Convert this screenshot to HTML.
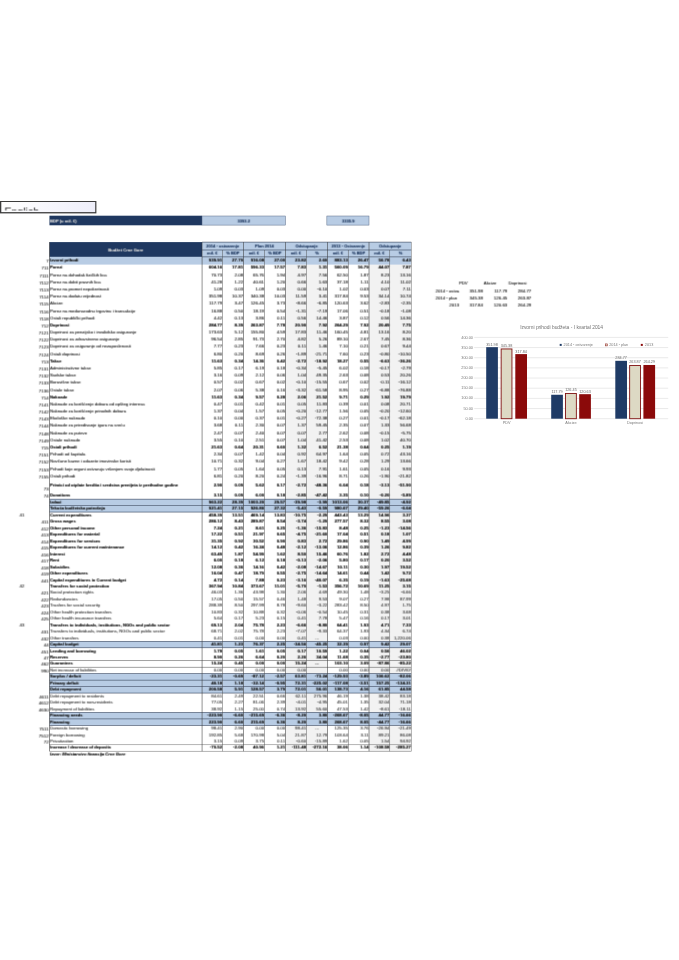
<!DOCTYPE html>
<html lang="en"><head><meta charset="utf-8"><title>Budžet Crne Gore - I kvartal 2014</title>
<style>
html,body{margin:0;padding:0;background:#fff;}
body{width:679px;height:960px;position:relative;overflow:hidden;font-family:"Liberation Sans",sans-serif;color:#222;}
.a{position:absolute;}
.t{position:absolute;white-space:nowrap;font-size:4.3px;line-height:6px;height:6px;color:#2a2a2a;text-shadow:0 0 0.35px rgba(0,0,0,0.55);}
.b{font-weight:bold;color:#111;font-size:4.12px;}
.l{color:#4a4a4a;}
.n{text-align:right;font-size:4.4px;}
.b.n{font-size:4.4px;}
.c{text-align:center;}
.m{position:relative;top:-1px;}
.code{position:absolute;white-space:nowrap;font-size:4.4px;line-height:6px;height:6px;color:#2e2e2e;text-align:right;text-shadow:0 0 0.35px rgba(0,0,0,0.45);}
.hd{position:absolute;white-space:nowrap;font-size:4.05px;text-shadow:0 0 0.35px rgba(31,56,96,0.55);line-height:6px;height:6px;font-weight:bold;color:#1f3860;text-align:center;}
.vl{position:absolute;width:0.9px;background:rgba(0,0,0,0.62);}
.vi{position:absolute;width:0.9px;background:rgba(0,0,0,0.42);}
.hl{position:absolute;height:0.6px;background:#27364f;}
.tx{position:absolute;left:0;top:0;width:679px;height:960px;filter:url(#soft);}
</style></head><body>
<svg width="0" height="0" style="position:absolute"><defs><filter id="soft" x="0" y="0" width="100%" height="100%" color-interpolation-filters="sRGB"><feConvolveMatrix order="3 2" kernelMatrix="0.075 0.35 0.075 0.075 0.35 0.075" divisor="1" edgeMode="none" preserveAlpha="false"/></filter></defs></svg>

<svg class="a bg" style="left:0;top:0;" width="679" height="960" viewBox="0 0 679 960"><defs><linearGradient id="eg" x1="0" x2="1" y1="0" y2="0"><stop offset="0" stop-color="#fff"/><stop offset="1" stop-color="#eeeefa"/></linearGradient></defs>
<rect x="0" y="201" width="96.4" height="12.4" fill="#3c3c3c"/>
<rect x="1.3" y="202" width="93.9" height="10.1" fill="url(#eg)"/>
<rect x="49.45" y="215.70" width="152.60" height="9.60" fill="#1f3860"/>
<rect x="202.05" y="216.00" width="83.45" height="9.10" fill="#b8cce4" stroke="#5d6d88" stroke-width="0.5"/>
<rect x="326.85" y="216.00" width="42.15" height="9.10" fill="#b8cce4" stroke="#5d6d88" stroke-width="0.5"/>
<rect x="49.45" y="242.10" width="152.60" height="14.80" fill="#1f3860"/>
<rect x="202.05" y="242.10" width="209.25" height="14.80" fill="#b8cce4"/>
<rect x="285.50" y="256.90" width="42.15" height="494.33" fill="#f2f2f2"/>
<rect x="369.00" y="256.90" width="42.30" height="494.33" fill="#f2f2f2"/>
<rect x="49.45" y="256.90" width="361.85" height="7.70" fill="#b8cce4"/>
<rect x="49.45" y="499.13" width="361.85" height="6.46" fill="#b8cce4"/>
<rect x="49.45" y="505.60" width="361.85" height="6.46" fill="#b8cce4"/>
<rect x="49.45" y="641.34" width="361.85" height="6.46" fill="#b8cce4"/>
<rect x="49.45" y="673.66" width="361.85" height="6.46" fill="#b8cce4"/>
<rect x="49.45" y="680.12" width="361.85" height="6.46" fill="#b8cce4"/>
<rect x="49.45" y="686.59" width="361.85" height="6.46" fill="#b8cce4"/>
<rect x="49.45" y="712.44" width="361.85" height="6.46" fill="#b8cce4"/>
<rect x="49.45" y="718.91" width="361.85" height="6.46" fill="#b8cce4"/>
<rect x="202.05" y="241.82" width="209.25" height="0.55" fill="#27364f"/>
<rect x="202.05" y="249.72" width="209.25" height="0.55" fill="#27364f"/>
<rect x="202.05" y="256.62" width="209.25" height="0.55" fill="#27364f"/>
<rect x="49.45" y="498.86" width="361.85" height="0.55" fill="#27364f"/>
<rect x="49.45" y="505.32" width="361.85" height="0.55" fill="#27364f"/>
<rect x="49.45" y="511.78" width="361.85" height="0.55" fill="#27364f"/>
<rect x="49.45" y="641.07" width="361.85" height="0.55" fill="#27364f"/>
<rect x="49.45" y="647.53" width="361.85" height="0.55" fill="#27364f"/>
<rect x="49.45" y="660.46" width="361.85" height="0.55" fill="#555"/>
<rect x="49.45" y="666.92" width="361.85" height="0.55" fill="#555"/>
<rect x="49.45" y="673.39" width="361.85" height="0.55" fill="#27364f"/>
<rect x="49.45" y="679.85" width="361.85" height="0.55" fill="#27364f"/>
<rect x="49.45" y="686.31" width="361.85" height="0.55" fill="#27364f"/>
<rect x="49.45" y="692.78" width="361.85" height="0.55" fill="#27364f"/>
<rect x="49.45" y="712.17" width="361.85" height="0.55" fill="#27364f"/>
<rect x="49.45" y="718.63" width="361.85" height="0.55" fill="#27364f"/>
<rect x="49.45" y="725.10" width="361.85" height="0.55" fill="#27364f"/>
<rect x="49.45" y="744.49" width="361.85" height="0.55" fill="#777"/>
<rect x="49.45" y="750.95" width="361.85" height="0.55" fill="#777"/>
<rect x="49.18" y="242.10" width="0.55" height="509.13" fill="#333"/>
<rect x="201.78" y="242.10" width="0.55" height="509.13" fill="#3a3a3a"/>
<rect x="222.28" y="250.00" width="0.45" height="501.23" fill="#4a4a4a"/>
<rect x="243.17" y="242.10" width="0.55" height="509.13" fill="#3a3a3a"/>
<rect x="264.22" y="250.00" width="0.45" height="501.23" fill="#4a4a4a"/>
<rect x="285.23" y="242.10" width="0.55" height="509.13" fill="#3a3a3a"/>
<rect x="306.17" y="250.00" width="0.45" height="501.23" fill="#4a4a4a"/>
<rect x="327.38" y="242.10" width="0.55" height="509.13" fill="#3a3a3a"/>
<rect x="347.97" y="250.00" width="0.45" height="501.23" fill="#4a4a4a"/>
<rect x="368.73" y="242.10" width="0.55" height="509.13" fill="#3a3a3a"/>
<rect x="389.57" y="250.00" width="0.45" height="501.23" fill="#4a4a4a"/>
<rect x="411.00" y="242.10" width="0.60" height="509.13" fill="#8a8a8a"/></svg>
<div class="tx">
<div class="a" style="left:4.4px;top:204px;width:60px;height:5.9px;overflow:hidden;"><div style="font-size:10.6px;line-height:12px;color:#222;margin-top:1.4px;">English</div></div>
<div class="t b" style="left:50px;top:217.6px;color:#fff;">BDP (u mil. €)</div>
<div class="hd" style="left:202.1px;top:217.6px;width:83.4px;">3393.2</div>
<div class="hd" style="left:327.6px;top:217.6px;width:41.4px;">3335.9</div>
<div class="t b c" style="left:49.5px;top:246.5px;width:152.6px;color:#fff;">Budžet Crne Gore</div>
<div class="hd" style="left:202.1px;top:243.1px;width:41.4px;">2014 <span class="m">-</span> ostvarenje</div>
<div class="hd" style="left:243.4px;top:243.1px;width:42.1px;">Plan 2014</div>
<div class="hd" style="left:285.5px;top:243.1px;width:42.1px;">Odstupanje</div>
<div class="hd" style="left:327.6px;top:243.1px;width:41.4px;">2013 <span class="m">-</span> Ostvarenje</div>
<div class="hd" style="left:369.0px;top:243.1px;width:42.3px;">Odstupanje</div>
<div class="hd" style="left:202.1px;top:250.4px;width:20.4px;">mil. €</div>
<div class="hd" style="left:222.5px;top:250.4px;width:20.9px;">% BDP</div>
<div class="hd" style="left:243.4px;top:250.4px;width:21.0px;">mil. €</div>
<div class="hd" style="left:264.4px;top:250.4px;width:21.1px;">% BDP</div>
<div class="hd" style="left:285.5px;top:250.4px;width:20.9px;">mil. €</div>
<div class="hd" style="left:306.4px;top:250.4px;width:21.2px;">%</div>
<div class="hd" style="left:327.6px;top:250.4px;width:20.6px;">mil. €</div>
<div class="hd" style="left:348.2px;top:250.4px;width:20.8px;">% BDP</div>
<div class="hd" style="left:369.0px;top:250.4px;width:20.8px;">mil. €</div>
<div class="hd" style="left:389.8px;top:250.4px;width:21.5px;">%</div>
<div class="code" style="left:20px;top:258.00px;width:28.6px;">7</div>
<div class="t b" style="left:50.1px;top:257.00px;">Izvorni prihodi</div>
<div class="t b n" style="left:196.1px;top:257.00px;width:26.1px;">939.91</div>
<div class="t b n" style="left:216.5px;top:257.00px;width:26.6px;">27.70</div>
<div class="t b n" style="left:237.4px;top:257.00px;width:26.7px;">916.08</div>
<div class="t b n" style="left:258.4px;top:257.00px;width:26.8px;">27.00</div>
<div class="t b n" style="left:279.5px;top:257.00px;width:26.6px;">23.82</div>
<div class="t b n" style="left:300.4px;top:257.00px;width:26.9px;">2.60</div>
<div class="t b n" style="left:321.6px;top:257.00px;width:26.3px;">883.13</div>
<div class="t b n" style="left:342.2px;top:257.00px;width:26.5px;">26.47</div>
<div class="t b n" style="left:363.0px;top:257.00px;width:26.5px;">56.78</div>
<div class="t b n" style="left:383.8px;top:257.00px;width:27.2px;">6.43</div>
<div class="code" style="left:20px;top:265.00px;width:28.6px;">711</div>
<div class="t b" style="left:50.1px;top:264.00px;">Porezi</div>
<div class="t b n" style="left:196.1px;top:264.00px;width:26.1px;">604.16</div>
<div class="t b n" style="left:216.5px;top:264.00px;width:26.6px;">17.81</div>
<div class="t b n" style="left:237.4px;top:264.00px;width:26.7px;">596.33</div>
<div class="t b n" style="left:258.4px;top:264.00px;width:26.8px;">17.57</div>
<div class="t b n" style="left:279.5px;top:264.00px;width:26.6px;">7.83</div>
<div class="t b n" style="left:300.4px;top:264.00px;width:26.9px;">1.31</div>
<div class="t b n" style="left:321.6px;top:264.00px;width:26.3px;">560.09</div>
<div class="t b n" style="left:342.2px;top:264.00px;width:26.5px;">16.79</div>
<div class="t b n" style="left:363.0px;top:264.00px;width:26.5px;">44.07</div>
<div class="t b n" style="left:383.8px;top:264.00px;width:27.2px;">7.87</div>
<div class="code" style="left:20px;top:273.00px;width:28.6px;">7111</div>
<div class="t" style="left:50.1px;top:272.00px;">Porez na dohodak fizičkih lica</div>
<div class="t n" style="left:196.1px;top:272.00px;width:26.1px;">70.73</div>
<div class="t n" style="left:216.5px;top:272.00px;width:26.6px;">2.08</div>
<div class="t n" style="left:237.4px;top:272.00px;width:26.7px;">65.76</div>
<div class="t n" style="left:258.4px;top:272.00px;width:26.8px;">1.94</div>
<div class="t n" style="left:279.5px;top:272.00px;width:26.6px;">4.97</div>
<div class="t n" style="left:300.4px;top:272.00px;width:26.9px;">7.56</div>
<div class="t n" style="left:321.6px;top:272.00px;width:26.3px;">62.50</div>
<div class="t n" style="left:342.2px;top:272.00px;width:26.5px;">1.87</div>
<div class="t n" style="left:363.0px;top:272.00px;width:26.5px;">8.23</div>
<div class="t n" style="left:383.8px;top:272.00px;width:27.2px;">13.16</div>
<div class="code" style="left:20px;top:280.00px;width:28.6px;">7112</div>
<div class="t" style="left:50.1px;top:279.00px;">Porez na dobit pravnih lica</div>
<div class="t n" style="left:196.1px;top:279.00px;width:26.1px;">41.28</div>
<div class="t n" style="left:216.5px;top:279.00px;width:26.6px;">1.22</div>
<div class="t n" style="left:237.4px;top:279.00px;width:26.7px;">40.61</div>
<div class="t n" style="left:258.4px;top:279.00px;width:26.8px;">1.20</div>
<div class="t n" style="left:279.5px;top:279.00px;width:26.6px;">0.66</div>
<div class="t n" style="left:300.4px;top:279.00px;width:26.9px;">1.63</div>
<div class="t n" style="left:321.6px;top:279.00px;width:26.3px;">37.18</div>
<div class="t n" style="left:342.2px;top:279.00px;width:26.5px;">1.11</div>
<div class="t n" style="left:363.0px;top:279.00px;width:26.5px;">4.10</div>
<div class="t n" style="left:383.8px;top:279.00px;width:27.2px;">11.02</div>
<div class="code" style="left:20px;top:287.00px;width:28.6px;">7113</div>
<div class="t" style="left:50.1px;top:286.00px;">Porez na promet nepokretnosti</div>
<div class="t n" style="left:196.1px;top:286.00px;width:26.1px;">1.09</div>
<div class="t n" style="left:216.5px;top:286.00px;width:26.6px;">0.03</div>
<div class="t n" style="left:237.4px;top:286.00px;width:26.7px;">1.09</div>
<div class="t n" style="left:258.4px;top:286.00px;width:26.8px;">0.03</div>
<div class="t n" style="left:279.5px;top:286.00px;width:26.6px;">0.00</div>
<div class="t n" style="left:300.4px;top:286.00px;width:26.9px;"><span class="m">-</span>0.10</div>
<div class="t n" style="left:321.6px;top:286.00px;width:26.3px;">1.02</div>
<div class="t n" style="left:342.2px;top:286.00px;width:26.5px;">0.03</div>
<div class="t n" style="left:363.0px;top:286.00px;width:26.5px;">0.07</div>
<div class="t n" style="left:383.8px;top:286.00px;width:27.2px;">7.11</div>
<div class="code" style="left:20px;top:294.00px;width:28.6px;">7114</div>
<div class="t" style="left:50.1px;top:293.00px;">Porez na dodatu vrijednost</div>
<div class="t n" style="left:196.1px;top:293.00px;width:26.1px;">351.98</div>
<div class="t n" style="left:216.5px;top:293.00px;width:26.6px;">10.37</div>
<div class="t n" style="left:237.4px;top:293.00px;width:26.7px;">340.38</div>
<div class="t n" style="left:258.4px;top:293.00px;width:26.8px;">10.03</div>
<div class="t n" style="left:279.5px;top:293.00px;width:26.6px;">11.59</div>
<div class="t n" style="left:300.4px;top:293.00px;width:26.9px;">3.41</div>
<div class="t n" style="left:321.6px;top:293.00px;width:26.3px;">317.84</div>
<div class="t n" style="left:342.2px;top:293.00px;width:26.5px;">9.53</div>
<div class="t n" style="left:363.0px;top:293.00px;width:26.5px;">34.14</div>
<div class="t n" style="left:383.8px;top:293.00px;width:27.2px;">10.74</div>
<div class="code" style="left:20px;top:301.00px;width:28.6px;">7115</div>
<div class="t" style="left:50.1px;top:300.00px;">Akcize</div>
<div class="t n" style="left:196.1px;top:300.00px;width:26.1px;">117.79</div>
<div class="t n" style="left:216.5px;top:300.00px;width:26.6px;">3.47</div>
<div class="t n" style="left:237.4px;top:300.00px;width:26.7px;">126.45</div>
<div class="t n" style="left:258.4px;top:300.00px;width:26.8px;">3.73</div>
<div class="t n" style="left:279.5px;top:300.00px;width:26.6px;"><span class="m">-</span>8.66</div>
<div class="t n" style="left:300.4px;top:300.00px;width:26.9px;"><span class="m">-</span>6.85</div>
<div class="t n" style="left:321.6px;top:300.00px;width:26.3px;">120.63</div>
<div class="t n" style="left:342.2px;top:300.00px;width:26.5px;">3.62</div>
<div class="t n" style="left:363.0px;top:300.00px;width:26.5px;"><span class="m">-</span>2.83</div>
<div class="t n" style="left:383.8px;top:300.00px;width:27.2px;"><span class="m">-</span>2.35</div>
<div class="code" style="left:20px;top:309.00px;width:28.6px;">7116</div>
<div class="t" style="left:50.1px;top:308.00px;">Porez na međunarodnu trgovinu i transakcije</div>
<div class="t n" style="left:196.1px;top:308.00px;width:26.1px;">16.88</div>
<div class="t n" style="left:216.5px;top:308.00px;width:26.6px;">0.50</div>
<div class="t n" style="left:237.4px;top:308.00px;width:26.7px;">18.19</div>
<div class="t n" style="left:258.4px;top:308.00px;width:26.8px;">0.54</div>
<div class="t n" style="left:279.5px;top:308.00px;width:26.6px;"><span class="m">-</span>1.31</div>
<div class="t n" style="left:300.4px;top:308.00px;width:26.9px;"><span class="m">-</span>7.19</div>
<div class="t n" style="left:321.6px;top:308.00px;width:26.3px;">17.06</div>
<div class="t n" style="left:342.2px;top:308.00px;width:26.5px;">0.51</div>
<div class="t n" style="left:363.0px;top:308.00px;width:26.5px;"><span class="m">-</span>0.18</div>
<div class="t n" style="left:383.8px;top:308.00px;width:27.2px;"><span class="m">-</span>1.08</div>
<div class="code" style="left:20px;top:316.00px;width:28.6px;">7118</div>
<div class="t" style="left:50.1px;top:315.00px;">Ostali republički prihodi</div>
<div class="t n" style="left:196.1px;top:315.00px;width:26.1px;">4.42</div>
<div class="t n" style="left:216.5px;top:315.00px;width:26.6px;">0.13</div>
<div class="t n" style="left:237.4px;top:315.00px;width:26.7px;">3.86</div>
<div class="t n" style="left:258.4px;top:315.00px;width:26.8px;">0.11</div>
<div class="t n" style="left:279.5px;top:315.00px;width:26.6px;">0.56</div>
<div class="t n" style="left:300.4px;top:315.00px;width:26.9px;">14.46</div>
<div class="t n" style="left:321.6px;top:315.00px;width:26.3px;">3.87</div>
<div class="t n" style="left:342.2px;top:315.00px;width:26.5px;">0.12</div>
<div class="t n" style="left:363.0px;top:315.00px;width:26.5px;">0.56</div>
<div class="t n" style="left:383.8px;top:315.00px;width:27.2px;">14.36</div>
<div class="code" style="left:20px;top:323.00px;width:28.6px;">712</div>
<div class="t b" style="left:50.1px;top:322.00px;">Doprinosi</div>
<div class="t b n" style="left:196.1px;top:322.00px;width:26.1px;">284.77</div>
<div class="t b n" style="left:216.5px;top:322.00px;width:26.6px;">8.39</div>
<div class="t b n" style="left:237.4px;top:322.00px;width:26.7px;">263.87</div>
<div class="t b n" style="left:258.4px;top:322.00px;width:26.8px;">7.78</div>
<div class="t b n" style="left:279.5px;top:322.00px;width:26.6px;">20.90</div>
<div class="t b n" style="left:300.4px;top:322.00px;width:26.9px;">7.92</div>
<div class="t b n" style="left:321.6px;top:322.00px;width:26.3px;">264.29</div>
<div class="t b n" style="left:342.2px;top:322.00px;width:26.5px;">7.92</div>
<div class="t b n" style="left:363.0px;top:322.00px;width:26.5px;">20.49</div>
<div class="t b n" style="left:383.8px;top:322.00px;width:27.2px;">7.75</div>
<div class="code" style="left:20px;top:330.00px;width:28.6px;">7121</div>
<div class="t" style="left:50.1px;top:329.00px;">Doprinosi za penzijsko i invalidsko osiguranje</div>
<div class="t n" style="left:196.1px;top:329.00px;width:26.1px;">173.63</div>
<div class="t n" style="left:216.5px;top:329.00px;width:26.6px;">5.12</div>
<div class="t n" style="left:237.4px;top:329.00px;width:26.7px;">155.80</div>
<div class="t n" style="left:258.4px;top:329.00px;width:26.8px;">4.59</div>
<div class="t n" style="left:279.5px;top:329.00px;width:26.6px;">17.83</div>
<div class="t n" style="left:300.4px;top:329.00px;width:26.9px;">11.46</div>
<div class="t n" style="left:321.6px;top:329.00px;width:26.3px;">160.45</div>
<div class="t n" style="left:342.2px;top:329.00px;width:26.5px;">4.81</div>
<div class="t n" style="left:363.0px;top:329.00px;width:26.5px;">13.16</div>
<div class="t n" style="left:383.8px;top:329.00px;width:27.2px;">8.20</div>
<div class="code" style="left:20px;top:337.00px;width:28.6px;">7122</div>
<div class="t" style="left:50.1px;top:336.00px;">Doprinosi za zdravstveno osiguranje</div>
<div class="t n" style="left:196.1px;top:336.00px;width:26.1px;">96.54</div>
<div class="t n" style="left:216.5px;top:336.00px;width:26.6px;">2.85</div>
<div class="t n" style="left:237.4px;top:336.00px;width:26.7px;">91.73</div>
<div class="t n" style="left:258.4px;top:336.00px;width:26.8px;">2.70</div>
<div class="t n" style="left:279.5px;top:336.00px;width:26.6px;">4.82</div>
<div class="t n" style="left:300.4px;top:336.00px;width:26.9px;">5.26</div>
<div class="t n" style="left:321.6px;top:336.00px;width:26.3px;">89.10</div>
<div class="t n" style="left:342.2px;top:336.00px;width:26.5px;">2.67</div>
<div class="t n" style="left:363.0px;top:336.00px;width:26.5px;">7.45</div>
<div class="t n" style="left:383.8px;top:336.00px;width:27.2px;">8.36</div>
<div class="code" style="left:20px;top:344.00px;width:28.6px;">7123</div>
<div class="t" style="left:50.1px;top:343.00px;">Doprinosi za osiguranje od nezaposlenosti</div>
<div class="t n" style="left:196.1px;top:343.00px;width:26.1px;">7.77</div>
<div class="t n" style="left:216.5px;top:343.00px;width:26.6px;">0.23</div>
<div class="t n" style="left:237.4px;top:343.00px;width:26.7px;">7.66</div>
<div class="t n" style="left:258.4px;top:343.00px;width:26.8px;">0.23</div>
<div class="t n" style="left:279.5px;top:343.00px;width:26.6px;">0.11</div>
<div class="t n" style="left:300.4px;top:343.00px;width:26.9px;">1.46</div>
<div class="t n" style="left:321.6px;top:343.00px;width:26.3px;">7.10</div>
<div class="t n" style="left:342.2px;top:343.00px;width:26.5px;">0.21</div>
<div class="t n" style="left:363.0px;top:343.00px;width:26.5px;">0.67</div>
<div class="t n" style="left:383.8px;top:343.00px;width:27.2px;">9.44</div>
<div class="code" style="left:20px;top:352.00px;width:28.6px;">7124</div>
<div class="t" style="left:50.1px;top:351.00px;">Ostali doprinosi</div>
<div class="t n" style="left:196.1px;top:351.00px;width:26.1px;">6.80</div>
<div class="t n" style="left:216.5px;top:351.00px;width:26.6px;">0.20</div>
<div class="t n" style="left:237.4px;top:351.00px;width:26.7px;">8.69</div>
<div class="t n" style="left:258.4px;top:351.00px;width:26.8px;">0.26</div>
<div class="t n" style="left:279.5px;top:351.00px;width:26.6px;"><span class="m">-</span>1.89</div>
<div class="t n" style="left:300.4px;top:351.00px;width:26.9px;"><span class="m">-</span>21.71</div>
<div class="t n" style="left:321.6px;top:351.00px;width:26.3px;">7.60</div>
<div class="t n" style="left:342.2px;top:351.00px;width:26.5px;">0.23</div>
<div class="t n" style="left:363.0px;top:351.00px;width:26.5px;"><span class="m">-</span>0.80</div>
<div class="t n" style="left:383.8px;top:351.00px;width:27.2px;"><span class="m">-</span>10.50</div>
<div class="code" style="left:20px;top:359.00px;width:28.6px;">713</div>
<div class="t b" style="left:50.1px;top:358.00px;">Takse</div>
<div class="t b n" style="left:196.1px;top:358.00px;width:26.1px;">11.63</div>
<div class="t b n" style="left:216.5px;top:358.00px;width:26.6px;">0.34</div>
<div class="t b n" style="left:237.4px;top:358.00px;width:26.7px;">14.36</div>
<div class="t b n" style="left:258.4px;top:358.00px;width:26.8px;">0.42</div>
<div class="t b n" style="left:279.5px;top:358.00px;width:26.6px;"><span class="m">-</span>2.72</div>
<div class="t b n" style="left:300.4px;top:358.00px;width:26.9px;"><span class="m">-</span>18.92</div>
<div class="t b n" style="left:321.6px;top:358.00px;width:26.3px;">18.27</div>
<div class="t b n" style="left:342.2px;top:358.00px;width:26.5px;">0.55</div>
<div class="t b n" style="left:363.0px;top:358.00px;width:26.5px;"><span class="m">-</span>6.63</div>
<div class="t b n" style="left:383.8px;top:358.00px;width:27.2px;"><span class="m">-</span>36.26</div>
<div class="code" style="left:20px;top:366.00px;width:28.6px;">7131</div>
<div class="t" style="left:50.1px;top:365.00px;">Administrativne takse</div>
<div class="t n" style="left:196.1px;top:365.00px;width:26.1px;">5.85</div>
<div class="t n" style="left:216.5px;top:365.00px;width:26.6px;">0.17</div>
<div class="t n" style="left:237.4px;top:365.00px;width:26.7px;">6.19</div>
<div class="t n" style="left:258.4px;top:365.00px;width:26.8px;">0.18</div>
<div class="t n" style="left:279.5px;top:365.00px;width:26.6px;"><span class="m">-</span>0.34</div>
<div class="t n" style="left:300.4px;top:365.00px;width:26.9px;"><span class="m">-</span>5.45</div>
<div class="t n" style="left:321.6px;top:365.00px;width:26.3px;">6.02</div>
<div class="t n" style="left:342.2px;top:365.00px;width:26.5px;">0.18</div>
<div class="t n" style="left:363.0px;top:365.00px;width:26.5px;"><span class="m">-</span>0.17</div>
<div class="t n" style="left:383.8px;top:365.00px;width:27.2px;"><span class="m">-</span>2.79</div>
<div class="code" style="left:20px;top:373.00px;width:28.6px;">7132</div>
<div class="t" style="left:50.1px;top:372.00px;">Sudske takse</div>
<div class="t n" style="left:196.1px;top:372.00px;width:26.1px;">3.16</div>
<div class="t n" style="left:216.5px;top:372.00px;width:26.6px;">0.09</div>
<div class="t n" style="left:237.4px;top:372.00px;width:26.7px;">2.12</div>
<div class="t n" style="left:258.4px;top:372.00px;width:26.8px;">0.06</div>
<div class="t n" style="left:279.5px;top:372.00px;width:26.6px;">1.04</div>
<div class="t n" style="left:300.4px;top:372.00px;width:26.9px;">49.35</div>
<div class="t n" style="left:321.6px;top:372.00px;width:26.3px;">2.63</div>
<div class="t n" style="left:342.2px;top:372.00px;width:26.5px;">0.08</div>
<div class="t n" style="left:363.0px;top:372.00px;width:26.5px;">0.53</div>
<div class="t n" style="left:383.8px;top:372.00px;width:27.2px;">20.26</div>
<div class="code" style="left:20px;top:380.00px;width:28.6px;">7133</div>
<div class="t" style="left:50.1px;top:379.00px;">Boravišne takse</div>
<div class="t n" style="left:196.1px;top:379.00px;width:26.1px;">0.57</div>
<div class="t n" style="left:216.5px;top:379.00px;width:26.6px;">0.02</div>
<div class="t n" style="left:237.4px;top:379.00px;width:26.7px;">0.67</div>
<div class="t n" style="left:258.4px;top:379.00px;width:26.8px;">0.02</div>
<div class="t n" style="left:279.5px;top:379.00px;width:26.6px;"><span class="m">-</span>0.10</div>
<div class="t n" style="left:300.4px;top:379.00px;width:26.9px;"><span class="m">-</span>15.55</div>
<div class="t n" style="left:321.6px;top:379.00px;width:26.3px;">0.67</div>
<div class="t n" style="left:342.2px;top:379.00px;width:26.5px;">0.02</div>
<div class="t n" style="left:363.0px;top:379.00px;width:26.5px;"><span class="m">-</span>0.11</div>
<div class="t n" style="left:383.8px;top:379.00px;width:27.2px;"><span class="m">-</span>16.12</div>
<div class="code" style="left:20px;top:388.00px;width:28.6px;">7136</div>
<div class="t" style="left:50.1px;top:387.00px;">Ostale takse</div>
<div class="t n" style="left:196.1px;top:387.00px;width:26.1px;">2.07</div>
<div class="t n" style="left:216.5px;top:387.00px;width:26.6px;">0.06</div>
<div class="t n" style="left:237.4px;top:387.00px;width:26.7px;">5.38</div>
<div class="t n" style="left:258.4px;top:387.00px;width:26.8px;">0.16</div>
<div class="t n" style="left:279.5px;top:387.00px;width:26.6px;"><span class="m">-</span>3.32</div>
<div class="t n" style="left:300.4px;top:387.00px;width:26.9px;"><span class="m">-</span>61.58</div>
<div class="t n" style="left:321.6px;top:387.00px;width:26.3px;">8.95</div>
<div class="t n" style="left:342.2px;top:387.00px;width:26.5px;">0.27</div>
<div class="t n" style="left:363.0px;top:387.00px;width:26.5px;"><span class="m">-</span>6.88</div>
<div class="t n" style="left:383.8px;top:387.00px;width:27.2px;"><span class="m">-</span>76.88</div>
<div class="code" style="left:20px;top:395.00px;width:28.6px;">714</div>
<div class="t b" style="left:50.1px;top:394.00px;">Naknade</div>
<div class="t b n" style="left:196.1px;top:394.00px;width:26.1px;">11.63</div>
<div class="t b n" style="left:216.5px;top:394.00px;width:26.6px;">0.34</div>
<div class="t b n" style="left:237.4px;top:394.00px;width:26.7px;">9.57</div>
<div class="t b n" style="left:258.4px;top:394.00px;width:26.8px;">0.28</div>
<div class="t b n" style="left:279.5px;top:394.00px;width:26.6px;">2.06</div>
<div class="t b n" style="left:300.4px;top:394.00px;width:26.9px;">21.52</div>
<div class="t b n" style="left:321.6px;top:394.00px;width:26.3px;">9.71</div>
<div class="t b n" style="left:342.2px;top:394.00px;width:26.5px;">0.29</div>
<div class="t b n" style="left:363.0px;top:394.00px;width:26.5px;">1.92</div>
<div class="t b n" style="left:383.8px;top:394.00px;width:27.2px;">19.79</div>
<div class="code" style="left:20px;top:402.00px;width:28.6px;">7141</div>
<div class="t" style="left:50.1px;top:401.00px;">Naknade za korišćenje dobara od opšteg interesa</div>
<div class="t n" style="left:196.1px;top:401.00px;width:26.1px;">0.47</div>
<div class="t n" style="left:216.5px;top:401.00px;width:26.6px;">0.01</div>
<div class="t n" style="left:237.4px;top:401.00px;width:26.7px;">0.42</div>
<div class="t n" style="left:258.4px;top:401.00px;width:26.8px;">0.01</div>
<div class="t n" style="left:279.5px;top:401.00px;width:26.6px;">0.05</div>
<div class="t n" style="left:300.4px;top:401.00px;width:26.9px;">11.83</div>
<div class="t n" style="left:321.6px;top:401.00px;width:26.3px;">0.39</div>
<div class="t n" style="left:342.2px;top:401.00px;width:26.5px;">0.01</div>
<div class="t n" style="left:363.0px;top:401.00px;width:26.5px;">0.08</div>
<div class="t n" style="left:383.8px;top:401.00px;width:27.2px;">20.71</div>
<div class="code" style="left:20px;top:409.00px;width:28.6px;">7142</div>
<div class="t" style="left:50.1px;top:408.00px;">Naknade za korišćenje prirodnih dobara</div>
<div class="t n" style="left:196.1px;top:408.00px;width:26.1px;">1.37</div>
<div class="t n" style="left:216.5px;top:408.00px;width:26.6px;">0.04</div>
<div class="t n" style="left:237.4px;top:408.00px;width:26.7px;">1.57</div>
<div class="t n" style="left:258.4px;top:408.00px;width:26.8px;">0.05</div>
<div class="t n" style="left:279.5px;top:408.00px;width:26.6px;"><span class="m">-</span>0.20</div>
<div class="t n" style="left:300.4px;top:408.00px;width:26.9px;"><span class="m">-</span>12.77</div>
<div class="t n" style="left:321.6px;top:408.00px;width:26.3px;">1.56</div>
<div class="t n" style="left:342.2px;top:408.00px;width:26.5px;">0.05</div>
<div class="t n" style="left:363.0px;top:408.00px;width:26.5px;"><span class="m">-</span>0.20</div>
<div class="t n" style="left:383.8px;top:408.00px;width:27.2px;"><span class="m">-</span>12.60</div>
<div class="code" style="left:20px;top:416.00px;width:28.6px;">7143</div>
<div class="t" style="left:50.1px;top:415.00px;">Ekološke naknade</div>
<div class="t n" style="left:196.1px;top:415.00px;width:26.1px;">0.10</div>
<div class="t n" style="left:216.5px;top:415.00px;width:26.6px;">0.00</div>
<div class="t n" style="left:237.4px;top:415.00px;width:26.7px;">0.37</div>
<div class="t n" style="left:258.4px;top:415.00px;width:26.8px;">0.01</div>
<div class="t n" style="left:279.5px;top:415.00px;width:26.6px;"><span class="m">-</span>0.27</div>
<div class="t n" style="left:300.4px;top:415.00px;width:26.9px;"><span class="m">-</span>72.38</div>
<div class="t n" style="left:321.6px;top:415.00px;width:26.3px;">0.27</div>
<div class="t n" style="left:342.2px;top:415.00px;width:26.5px;">0.01</div>
<div class="t n" style="left:363.0px;top:415.00px;width:26.5px;"><span class="m">-</span>0.17</div>
<div class="t n" style="left:383.8px;top:415.00px;width:27.2px;"><span class="m">-</span>62.18</div>
<div class="code" style="left:20px;top:423.00px;width:28.6px;">7144</div>
<div class="t" style="left:50.1px;top:422.00px;">Naknade za priređivanje igara na sreću</div>
<div class="t n" style="left:196.1px;top:422.00px;width:26.1px;">3.68</div>
<div class="t n" style="left:216.5px;top:422.00px;width:26.6px;">0.11</div>
<div class="t n" style="left:237.4px;top:422.00px;width:26.7px;">2.30</div>
<div class="t n" style="left:258.4px;top:422.00px;width:26.8px;">0.07</div>
<div class="t n" style="left:279.5px;top:422.00px;width:26.6px;">1.37</div>
<div class="t n" style="left:300.4px;top:422.00px;width:26.9px;">59.45</div>
<div class="t n" style="left:321.6px;top:422.00px;width:26.3px;">2.35</div>
<div class="t n" style="left:342.2px;top:422.00px;width:26.5px;">0.07</div>
<div class="t n" style="left:363.0px;top:422.00px;width:26.5px;">1.33</div>
<div class="t n" style="left:383.8px;top:422.00px;width:27.2px;">56.68</div>
<div class="code" style="left:20px;top:431.00px;width:28.6px;">7148</div>
<div class="t" style="left:50.1px;top:430.00px;">Naknade za puteve</div>
<div class="t n" style="left:196.1px;top:430.00px;width:26.1px;">2.47</div>
<div class="t n" style="left:216.5px;top:430.00px;width:26.6px;">0.07</div>
<div class="t n" style="left:237.4px;top:430.00px;width:26.7px;">2.40</div>
<div class="t n" style="left:258.4px;top:430.00px;width:26.8px;">0.07</div>
<div class="t n" style="left:279.5px;top:430.00px;width:26.6px;">0.07</div>
<div class="t n" style="left:300.4px;top:430.00px;width:26.9px;">2.77</div>
<div class="t n" style="left:321.6px;top:430.00px;width:26.3px;">2.62</div>
<div class="t n" style="left:342.2px;top:430.00px;width:26.5px;">0.08</div>
<div class="t n" style="left:363.0px;top:430.00px;width:26.5px;"><span class="m">-</span>0.15</div>
<div class="t n" style="left:383.8px;top:430.00px;width:27.2px;"><span class="m">-</span>5.75</div>
<div class="code" style="left:20px;top:438.00px;width:28.6px;">7149</div>
<div class="t" style="left:50.1px;top:437.00px;">Ostale naknade</div>
<div class="t n" style="left:196.1px;top:437.00px;width:26.1px;">3.55</div>
<div class="t n" style="left:216.5px;top:437.00px;width:26.6px;">0.10</div>
<div class="t n" style="left:237.4px;top:437.00px;width:26.7px;">2.51</div>
<div class="t n" style="left:258.4px;top:437.00px;width:26.8px;">0.07</div>
<div class="t n" style="left:279.5px;top:437.00px;width:26.6px;">1.04</div>
<div class="t n" style="left:300.4px;top:437.00px;width:26.9px;">41.42</div>
<div class="t n" style="left:321.6px;top:437.00px;width:26.3px;">2.53</div>
<div class="t n" style="left:342.2px;top:437.00px;width:26.5px;">0.08</div>
<div class="t n" style="left:363.0px;top:437.00px;width:26.5px;">1.02</div>
<div class="t n" style="left:383.8px;top:437.00px;width:27.2px;">40.70</div>
<div class="code" style="left:20px;top:445.00px;width:28.6px;">715</div>
<div class="t b" style="left:50.1px;top:444.00px;">Ostali prihodi</div>
<div class="t b n" style="left:196.1px;top:444.00px;width:26.1px;">21.63</div>
<div class="t b n" style="left:216.5px;top:444.00px;width:26.6px;">0.64</div>
<div class="t b n" style="left:237.4px;top:444.00px;width:26.7px;">20.31</div>
<div class="t b n" style="left:258.4px;top:444.00px;width:26.8px;">0.60</div>
<div class="t b n" style="left:279.5px;top:444.00px;width:26.6px;">1.32</div>
<div class="t b n" style="left:300.4px;top:444.00px;width:26.9px;">6.52</div>
<div class="t b n" style="left:321.6px;top:444.00px;width:26.3px;">21.38</div>
<div class="t b n" style="left:342.2px;top:444.00px;width:26.5px;">0.64</div>
<div class="t b n" style="left:363.0px;top:444.00px;width:26.5px;">0.25</div>
<div class="t b n" style="left:383.8px;top:444.00px;width:27.2px;">1.19</div>
<div class="code" style="left:20px;top:452.00px;width:28.6px;">7151</div>
<div class="t" style="left:50.1px;top:451.00px;">Prihodi od kapitala</div>
<div class="t n" style="left:196.1px;top:451.00px;width:26.1px;">2.34</div>
<div class="t n" style="left:216.5px;top:451.00px;width:26.6px;">0.07</div>
<div class="t n" style="left:237.4px;top:451.00px;width:26.7px;">1.42</div>
<div class="t n" style="left:258.4px;top:451.00px;width:26.8px;">0.04</div>
<div class="t n" style="left:279.5px;top:451.00px;width:26.6px;">0.92</div>
<div class="t n" style="left:300.4px;top:451.00px;width:26.9px;">64.97</div>
<div class="t n" style="left:321.6px;top:451.00px;width:26.3px;">1.64</div>
<div class="t n" style="left:342.2px;top:451.00px;width:26.5px;">0.05</div>
<div class="t n" style="left:363.0px;top:451.00px;width:26.5px;">0.72</div>
<div class="t n" style="left:383.8px;top:451.00px;width:27.2px;">43.16</div>
<div class="code" style="left:20px;top:459.00px;width:28.6px;">7152</div>
<div class="t" style="left:50.1px;top:458.00px;">Novčane kazne i oduzete imovinske koristi</div>
<div class="t n" style="left:196.1px;top:458.00px;width:26.1px;">10.71</div>
<div class="t n" style="left:216.5px;top:458.00px;width:26.6px;">0.32</div>
<div class="t n" style="left:237.4px;top:458.00px;width:26.7px;">9.04</div>
<div class="t n" style="left:258.4px;top:458.00px;width:26.8px;">0.27</div>
<div class="t n" style="left:279.5px;top:458.00px;width:26.6px;">1.67</div>
<div class="t n" style="left:300.4px;top:458.00px;width:26.9px;">18.42</div>
<div class="t n" style="left:321.6px;top:458.00px;width:26.3px;">9.42</div>
<div class="t n" style="left:342.2px;top:458.00px;width:26.5px;">0.28</div>
<div class="t n" style="left:363.0px;top:458.00px;width:26.5px;">1.29</div>
<div class="t n" style="left:383.8px;top:458.00px;width:27.2px;">13.66</div>
<div class="code" style="left:20px;top:467.00px;width:28.6px;">7153</div>
<div class="t" style="left:50.1px;top:466.00px;">Prihodi koje organi ostvaruju vršenjem svoje djelatnosti</div>
<div class="t n" style="left:196.1px;top:466.00px;width:26.1px;">1.77</div>
<div class="t n" style="left:216.5px;top:466.00px;width:26.6px;">0.05</div>
<div class="t n" style="left:237.4px;top:466.00px;width:26.7px;">1.64</div>
<div class="t n" style="left:258.4px;top:466.00px;width:26.8px;">0.05</div>
<div class="t n" style="left:279.5px;top:466.00px;width:26.6px;">0.13</div>
<div class="t n" style="left:300.4px;top:466.00px;width:26.9px;">7.91</div>
<div class="t n" style="left:321.6px;top:466.00px;width:26.3px;">1.61</div>
<div class="t n" style="left:342.2px;top:466.00px;width:26.5px;">0.05</div>
<div class="t n" style="left:363.0px;top:466.00px;width:26.5px;">0.16</div>
<div class="t n" style="left:383.8px;top:466.00px;width:27.2px;">9.93</div>
<div class="code" style="left:20px;top:474.00px;width:28.6px;">7155</div>
<div class="t" style="left:50.1px;top:473.00px;">Ostali prihodi</div>
<div class="t n" style="left:196.1px;top:473.00px;width:26.1px;">6.81</div>
<div class="t n" style="left:216.5px;top:473.00px;width:26.6px;">0.20</div>
<div class="t n" style="left:237.4px;top:473.00px;width:26.7px;">8.20</div>
<div class="t n" style="left:258.4px;top:473.00px;width:26.8px;">0.24</div>
<div class="t n" style="left:279.5px;top:473.00px;width:26.6px;"><span class="m">-</span>1.39</div>
<div class="t n" style="left:300.4px;top:473.00px;width:26.9px;"><span class="m">-</span>16.96</div>
<div class="t n" style="left:321.6px;top:473.00px;width:26.3px;">8.71</div>
<div class="t n" style="left:342.2px;top:473.00px;width:26.5px;">0.26</div>
<div class="t n" style="left:363.0px;top:473.00px;width:26.5px;"><span class="m">-</span>1.90</div>
<div class="t n" style="left:383.8px;top:473.00px;width:27.2px;"><span class="m">-</span>21.82</div>
<div class="code" style="left:20px;top:486.00px;width:28.6px;">73</div>
<div class="t b" style="left:50.1px;top:482.00px;">Primici od otplate kredita i sredstva prenijeta iz prethodne godine</div>
<div class="t b n" style="left:196.1px;top:482.00px;width:26.1px;">2.90</div>
<div class="t b n" style="left:216.5px;top:482.00px;width:26.6px;">0.09</div>
<div class="t b n" style="left:237.4px;top:482.00px;width:26.7px;">5.62</div>
<div class="t b n" style="left:258.4px;top:482.00px;width:26.8px;">0.17</div>
<div class="t b n" style="left:279.5px;top:482.00px;width:26.6px;"><span class="m">-</span>2.72</div>
<div class="t b n" style="left:300.4px;top:482.00px;width:26.9px;"><span class="m">-</span>48.36</div>
<div class="t b n" style="left:321.6px;top:482.00px;width:26.3px;">6.04</div>
<div class="t b n" style="left:342.2px;top:482.00px;width:26.5px;">0.18</div>
<div class="t b n" style="left:363.0px;top:482.00px;width:26.5px;"><span class="m">-</span>3.13</div>
<div class="t b n" style="left:383.8px;top:482.00px;width:27.2px;"><span class="m">-</span>51.90</div>
<div class="code" style="left:20px;top:493.00px;width:28.6px;">74</div>
<div class="t b" style="left:50.1px;top:492.00px;">Donations</div>
<div class="t b n" style="left:196.1px;top:492.00px;width:26.1px;">3.15</div>
<div class="t b n" style="left:216.5px;top:492.00px;width:26.6px;">0.09</div>
<div class="t b n" style="left:237.4px;top:492.00px;width:26.7px;">6.00</div>
<div class="t b n" style="left:258.4px;top:492.00px;width:26.8px;">0.18</div>
<div class="t b n" style="left:279.5px;top:492.00px;width:26.6px;"><span class="m">-</span>2.85</div>
<div class="t b n" style="left:300.4px;top:492.00px;width:26.9px;"><span class="m">-</span>47.42</div>
<div class="t b n" style="left:321.6px;top:492.00px;width:26.3px;">3.35</div>
<div class="t b n" style="left:342.2px;top:492.00px;width:26.5px;">0.10</div>
<div class="t b n" style="left:363.0px;top:492.00px;width:26.5px;"><span class="m">-</span>0.20</div>
<div class="t b n" style="left:383.8px;top:492.00px;width:27.2px;"><span class="m">-</span>5.89</div>
<div class="t b" style="left:50.1px;top:499.00px;">Izdaci</div>
<div class="t b n" style="left:196.1px;top:499.00px;width:26.1px;">963.22</div>
<div class="t b n" style="left:216.5px;top:499.00px;width:26.6px;">28.39</div>
<div class="t b n" style="left:237.4px;top:499.00px;width:26.7px;">1003.20</div>
<div class="t b n" style="left:258.4px;top:499.00px;width:26.8px;">29.57</div>
<div class="t b n" style="left:279.5px;top:499.00px;width:26.6px;"><span class="m">-</span>39.98</div>
<div class="t b n" style="left:300.4px;top:499.00px;width:26.9px;"><span class="m">-</span>3.99</div>
<div class="t b n" style="left:321.6px;top:499.00px;width:26.3px;">1013.06</div>
<div class="t b n" style="left:342.2px;top:499.00px;width:26.5px;">30.37</div>
<div class="t b n" style="left:363.0px;top:499.00px;width:26.5px;"><span class="m">-</span>49.85</div>
<div class="t b n" style="left:383.8px;top:499.00px;width:27.2px;"><span class="m">-</span>4.92</div>
<div class="t b" style="left:50.1px;top:505.00px;">Tekuća budžetska potrošnja</div>
<div class="t b n" style="left:196.1px;top:505.00px;width:26.1px;">921.41</div>
<div class="t b n" style="left:216.5px;top:505.00px;width:26.6px;">27.15</div>
<div class="t b n" style="left:237.4px;top:505.00px;width:26.7px;">926.86</div>
<div class="t b n" style="left:258.4px;top:505.00px;width:26.8px;">27.32</div>
<div class="t b n" style="left:279.5px;top:505.00px;width:26.6px;"><span class="m">-</span>5.43</div>
<div class="t b n" style="left:300.4px;top:505.00px;width:26.9px;"><span class="m">-</span>0.59</div>
<div class="t b n" style="left:321.6px;top:505.00px;width:26.3px;">980.67</div>
<div class="t b n" style="left:342.2px;top:505.00px;width:26.5px;">29.40</div>
<div class="t b n" style="left:363.0px;top:505.00px;width:26.5px;"><span class="m">-</span>59.26</div>
<div class="t b n" style="left:383.8px;top:505.00px;width:27.2px;"><span class="m">-</span>6.04</div>
<div class="code" style="left:10px;top:512.00px;width:14.5px;">41</div>
<div class="t b" style="left:50.1px;top:512.00px;">Current expenditures</div>
<div class="t b n" style="left:196.1px;top:512.00px;width:26.1px;">458.39</div>
<div class="t b n" style="left:216.5px;top:512.00px;width:26.6px;">13.51</div>
<div class="t b n" style="left:237.4px;top:512.00px;width:26.7px;">469.14</div>
<div class="t b n" style="left:258.4px;top:512.00px;width:26.8px;">13.83</div>
<div class="t b n" style="left:279.5px;top:512.00px;width:26.6px;"><span class="m">-</span>10.75</div>
<div class="t b n" style="left:300.4px;top:512.00px;width:26.9px;"><span class="m">-</span>2.29</div>
<div class="t b n" style="left:321.6px;top:512.00px;width:26.3px;">443.43</div>
<div class="t b n" style="left:342.2px;top:512.00px;width:26.5px;">13.29</div>
<div class="t b n" style="left:363.0px;top:512.00px;width:26.5px;">14.96</div>
<div class="t b n" style="left:383.8px;top:512.00px;width:27.2px;">3.37</div>
<div class="code" style="left:20px;top:519.00px;width:28.6px;">411</div>
<div class="t b" style="left:50.1px;top:518.00px;">Gross wages</div>
<div class="t b n" style="left:196.1px;top:518.00px;width:26.1px;">286.12</div>
<div class="t b n" style="left:216.5px;top:518.00px;width:26.6px;">8.43</div>
<div class="t b n" style="left:237.4px;top:518.00px;width:26.7px;">289.87</div>
<div class="t b n" style="left:258.4px;top:518.00px;width:26.8px;">8.54</div>
<div class="t b n" style="left:279.5px;top:518.00px;width:26.6px;"><span class="m">-</span>3.74</div>
<div class="t b n" style="left:300.4px;top:518.00px;width:26.9px;"><span class="m">-</span>1.29</div>
<div class="t b n" style="left:321.6px;top:518.00px;width:26.3px;">277.57</div>
<div class="t b n" style="left:342.2px;top:518.00px;width:26.5px;">8.32</div>
<div class="t b n" style="left:363.0px;top:518.00px;width:26.5px;">8.55</div>
<div class="t b n" style="left:383.8px;top:518.00px;width:27.2px;">3.08</div>
<div class="code" style="left:20px;top:526.00px;width:28.6px;">412</div>
<div class="t b" style="left:50.1px;top:525.00px;">Other personal income</div>
<div class="t b n" style="left:196.1px;top:525.00px;width:26.1px;">7.24</div>
<div class="t b n" style="left:216.5px;top:525.00px;width:26.6px;">0.21</div>
<div class="t b n" style="left:237.4px;top:525.00px;width:26.7px;">8.61</div>
<div class="t b n" style="left:258.4px;top:525.00px;width:26.8px;">0.25</div>
<div class="t b n" style="left:279.5px;top:525.00px;width:26.6px;"><span class="m">-</span>1.36</div>
<div class="t b n" style="left:300.4px;top:525.00px;width:26.9px;"><span class="m">-</span>15.83</div>
<div class="t b n" style="left:321.6px;top:525.00px;width:26.3px;">8.48</div>
<div class="t b n" style="left:342.2px;top:525.00px;width:26.5px;">0.25</div>
<div class="t b n" style="left:363.0px;top:525.00px;width:26.5px;"><span class="m">-</span>1.23</div>
<div class="t b n" style="left:383.8px;top:525.00px;width:27.2px;"><span class="m">-</span>14.56</div>
<div class="code" style="left:20px;top:532.00px;width:28.6px;">413</div>
<div class="t b" style="left:50.1px;top:531.00px;">Expenditures for material</div>
<div class="t b n" style="left:196.1px;top:531.00px;width:26.1px;">17.22</div>
<div class="t b n" style="left:216.5px;top:531.00px;width:26.6px;">0.51</div>
<div class="t b n" style="left:237.4px;top:531.00px;width:26.7px;">21.97</div>
<div class="t b n" style="left:258.4px;top:531.00px;width:26.8px;">0.65</div>
<div class="t b n" style="left:279.5px;top:531.00px;width:26.6px;"><span class="m">-</span>4.75</div>
<div class="t b n" style="left:300.4px;top:531.00px;width:26.9px;"><span class="m">-</span>21.60</div>
<div class="t b n" style="left:321.6px;top:531.00px;width:26.3px;">17.04</div>
<div class="t b n" style="left:342.2px;top:531.00px;width:26.5px;">0.51</div>
<div class="t b n" style="left:363.0px;top:531.00px;width:26.5px;">0.18</div>
<div class="t b n" style="left:383.8px;top:531.00px;width:27.2px;">1.07</div>
<div class="code" style="left:20px;top:539.00px;width:28.6px;">414</div>
<div class="t b" style="left:50.1px;top:538.00px;">Expenditures for services</div>
<div class="t b n" style="left:196.1px;top:538.00px;width:26.1px;">31.35</div>
<div class="t b n" style="left:216.5px;top:538.00px;width:26.6px;">0.92</div>
<div class="t b n" style="left:237.4px;top:538.00px;width:26.7px;">30.52</div>
<div class="t b n" style="left:258.4px;top:538.00px;width:26.8px;">0.90</div>
<div class="t b n" style="left:279.5px;top:538.00px;width:26.6px;">0.83</div>
<div class="t b n" style="left:300.4px;top:538.00px;width:26.9px;">2.72</div>
<div class="t b n" style="left:321.6px;top:538.00px;width:26.3px;">29.86</div>
<div class="t b n" style="left:342.2px;top:538.00px;width:26.5px;">0.90</div>
<div class="t b n" style="left:363.0px;top:538.00px;width:26.5px;">1.49</div>
<div class="t b n" style="left:383.8px;top:538.00px;width:27.2px;">4.99</div>
<div class="code" style="left:20px;top:545.00px;width:28.6px;">415</div>
<div class="t b" style="left:50.1px;top:544.00px;">Expenditures for current maintenance</div>
<div class="t b n" style="left:196.1px;top:544.00px;width:26.1px;">14.12</div>
<div class="t b n" style="left:216.5px;top:544.00px;width:26.6px;">0.42</div>
<div class="t b n" style="left:237.4px;top:544.00px;width:26.7px;">16.24</div>
<div class="t b n" style="left:258.4px;top:544.00px;width:26.8px;">0.48</div>
<div class="t b n" style="left:279.5px;top:544.00px;width:26.6px;"><span class="m">-</span>2.12</div>
<div class="t b n" style="left:300.4px;top:544.00px;width:26.9px;"><span class="m">-</span>13.06</div>
<div class="t b n" style="left:321.6px;top:544.00px;width:26.3px;">12.86</div>
<div class="t b n" style="left:342.2px;top:544.00px;width:26.5px;">0.39</div>
<div class="t b n" style="left:363.0px;top:544.00px;width:26.5px;">1.26</div>
<div class="t b n" style="left:383.8px;top:544.00px;width:27.2px;">9.82</div>
<div class="code" style="left:20px;top:552.00px;width:28.6px;">416</div>
<div class="t b" style="left:50.1px;top:551.00px;">Interest</div>
<div class="t b n" style="left:196.1px;top:551.00px;width:26.1px;">63.49</div>
<div class="t b n" style="left:216.5px;top:551.00px;width:26.6px;">1.87</div>
<div class="t b n" style="left:237.4px;top:551.00px;width:26.7px;">54.99</div>
<div class="t b n" style="left:258.4px;top:551.00px;width:26.8px;">1.62</div>
<div class="t b n" style="left:279.5px;top:551.00px;width:26.6px;">8.50</div>
<div class="t b n" style="left:300.4px;top:551.00px;width:26.9px;">15.46</div>
<div class="t b n" style="left:321.6px;top:551.00px;width:26.3px;">60.76</div>
<div class="t b n" style="left:342.2px;top:551.00px;width:26.5px;">1.82</div>
<div class="t b n" style="left:363.0px;top:551.00px;width:26.5px;">2.72</div>
<div class="t b n" style="left:383.8px;top:551.00px;width:27.2px;">4.48</div>
<div class="code" style="left:20px;top:558.00px;width:28.6px;">417</div>
<div class="t b" style="left:50.1px;top:557.00px;">Rent</div>
<div class="t b n" style="left:196.1px;top:557.00px;width:26.1px;">6.00</div>
<div class="t b n" style="left:216.5px;top:557.00px;width:26.6px;">0.18</div>
<div class="t b n" style="left:237.4px;top:557.00px;width:26.7px;">6.12</div>
<div class="t b n" style="left:258.4px;top:557.00px;width:26.8px;">0.18</div>
<div class="t b n" style="left:279.5px;top:557.00px;width:26.6px;"><span class="m">-</span>0.13</div>
<div class="t b n" style="left:300.4px;top:557.00px;width:26.9px;"><span class="m">-</span>2.06</div>
<div class="t b n" style="left:321.6px;top:557.00px;width:26.3px;">5.80</div>
<div class="t b n" style="left:342.2px;top:557.00px;width:26.5px;">0.17</div>
<div class="t b n" style="left:363.0px;top:557.00px;width:26.5px;">0.20</div>
<div class="t b n" style="left:383.8px;top:557.00px;width:27.2px;">3.52</div>
<div class="code" style="left:20px;top:565.00px;width:28.6px;">418</div>
<div class="t b" style="left:50.1px;top:564.00px;">Subsidies</div>
<div class="t b n" style="left:196.1px;top:564.00px;width:26.1px;">12.08</div>
<div class="t b n" style="left:216.5px;top:564.00px;width:26.6px;">0.36</div>
<div class="t b n" style="left:237.4px;top:564.00px;width:26.7px;">14.16</div>
<div class="t b n" style="left:258.4px;top:564.00px;width:26.8px;">0.42</div>
<div class="t b n" style="left:279.5px;top:564.00px;width:26.6px;"><span class="m">-</span>2.08</div>
<div class="t b n" style="left:300.4px;top:564.00px;width:26.9px;"><span class="m">-</span>14.67</div>
<div class="t b n" style="left:321.6px;top:564.00px;width:26.3px;">10.11</div>
<div class="t b n" style="left:342.2px;top:564.00px;width:26.5px;">0.30</div>
<div class="t b n" style="left:363.0px;top:564.00px;width:26.5px;">1.97</div>
<div class="t b n" style="left:383.8px;top:564.00px;width:27.2px;">19.52</div>
<div class="code" style="left:20px;top:571.00px;width:28.6px;">419</div>
<div class="t b" style="left:50.1px;top:570.00px;">Other expenditures</div>
<div class="t b n" style="left:196.1px;top:570.00px;width:26.1px;">16.04</div>
<div class="t b n" style="left:216.5px;top:570.00px;width:26.6px;">0.47</div>
<div class="t b n" style="left:237.4px;top:570.00px;width:26.7px;">18.79</div>
<div class="t b n" style="left:258.4px;top:570.00px;width:26.8px;">0.55</div>
<div class="t b n" style="left:279.5px;top:570.00px;width:26.6px;"><span class="m">-</span>2.75</div>
<div class="t b n" style="left:300.4px;top:570.00px;width:26.9px;"><span class="m">-</span>14.64</div>
<div class="t b n" style="left:321.6px;top:570.00px;width:26.3px;">14.61</div>
<div class="t b n" style="left:342.2px;top:570.00px;width:26.5px;">0.44</div>
<div class="t b n" style="left:363.0px;top:570.00px;width:26.5px;">1.42</div>
<div class="t b n" style="left:383.8px;top:570.00px;width:27.2px;">9.72</div>
<div class="code" style="left:20px;top:578.00px;width:28.6px;">441</div>
<div class="t b" style="left:50.1px;top:577.00px;">Capital expenditures in Current budget</div>
<div class="t b n" style="left:196.1px;top:577.00px;width:26.1px;">4.72</div>
<div class="t b n" style="left:216.5px;top:577.00px;width:26.6px;">0.14</div>
<div class="t b n" style="left:237.4px;top:577.00px;width:26.7px;">7.88</div>
<div class="t b n" style="left:258.4px;top:577.00px;width:26.8px;">0.23</div>
<div class="t b n" style="left:279.5px;top:577.00px;width:26.6px;"><span class="m">-</span>3.16</div>
<div class="t b n" style="left:300.4px;top:577.00px;width:26.9px;"><span class="m">-</span>40.07</div>
<div class="t b n" style="left:321.6px;top:577.00px;width:26.3px;">6.35</div>
<div class="t b n" style="left:342.2px;top:577.00px;width:26.5px;">0.19</div>
<div class="t b n" style="left:363.0px;top:577.00px;width:26.5px;"><span class="m">-</span>1.63</div>
<div class="t b n" style="left:383.8px;top:577.00px;width:27.2px;"><span class="m">-</span>25.68</div>
<div class="code" style="left:10px;top:583.00px;width:14.5px;">42</div>
<div class="t b" style="left:50.1px;top:583.00px;">Transfers for social protection</div>
<div class="t b n" style="left:196.1px;top:583.00px;width:26.1px;">367.94</div>
<div class="t b n" style="left:216.5px;top:583.00px;width:26.6px;">10.84</div>
<div class="t b n" style="left:237.4px;top:583.00px;width:26.7px;">373.67</div>
<div class="t b n" style="left:258.4px;top:583.00px;width:26.8px;">11.01</div>
<div class="t b n" style="left:279.5px;top:583.00px;width:26.6px;"><span class="m">-</span>5.70</div>
<div class="t b n" style="left:300.4px;top:583.00px;width:26.9px;"><span class="m">-</span>1.53</div>
<div class="t b n" style="left:321.6px;top:583.00px;width:26.3px;">356.72</div>
<div class="t b n" style="left:342.2px;top:583.00px;width:26.5px;">10.69</div>
<div class="t b n" style="left:363.0px;top:583.00px;width:26.5px;">11.25</div>
<div class="t b n" style="left:383.8px;top:583.00px;width:27.2px;">3.15</div>
<div class="code" style="left:20px;top:590.00px;width:28.6px;">421</div>
<div class="t l" style="left:50.1px;top:589.00px;">Social protection rights</div>
<div class="t l n" style="left:196.1px;top:589.00px;width:26.1px;">46.03</div>
<div class="t l n" style="left:216.5px;top:589.00px;width:26.6px;">1.36</div>
<div class="t l n" style="left:237.4px;top:589.00px;width:26.7px;">43.98</div>
<div class="t l n" style="left:258.4px;top:589.00px;width:26.8px;">1.30</div>
<div class="t l n" style="left:279.5px;top:589.00px;width:26.6px;">2.06</div>
<div class="t l n" style="left:300.4px;top:589.00px;width:26.9px;">4.69</div>
<div class="t l n" style="left:321.6px;top:589.00px;width:26.3px;">49.30</div>
<div class="t l n" style="left:342.2px;top:589.00px;width:26.5px;">1.48</div>
<div class="t l n" style="left:363.0px;top:589.00px;width:26.5px;"><span class="m">-</span>3.25</div>
<div class="t l n" style="left:383.8px;top:589.00px;width:27.2px;"><span class="m">-</span>6.66</div>
<div class="code" style="left:20px;top:597.00px;width:28.6px;">422</div>
<div class="t l" style="left:50.1px;top:596.00px;">Redundancies</div>
<div class="t l n" style="left:196.1px;top:596.00px;width:26.1px;">17.05</div>
<div class="t l n" style="left:216.5px;top:596.00px;width:26.6px;">0.50</div>
<div class="t l n" style="left:237.4px;top:596.00px;width:26.7px;">15.57</div>
<div class="t l n" style="left:258.4px;top:596.00px;width:26.8px;">0.46</div>
<div class="t l n" style="left:279.5px;top:596.00px;width:26.6px;">1.48</div>
<div class="t l n" style="left:300.4px;top:596.00px;width:26.9px;">9.53</div>
<div class="t l n" style="left:321.6px;top:596.00px;width:26.3px;">9.07</div>
<div class="t l n" style="left:342.2px;top:596.00px;width:26.5px;">0.27</div>
<div class="t l n" style="left:363.0px;top:596.00px;width:26.5px;">7.98</div>
<div class="t l n" style="left:383.8px;top:596.00px;width:27.2px;">87.99</div>
<div class="code" style="left:20px;top:603.00px;width:28.6px;">423</div>
<div class="t l" style="left:50.1px;top:602.00px;">Trasfers for social security</div>
<div class="t l n" style="left:196.1px;top:602.00px;width:26.1px;">288.39</div>
<div class="t l n" style="left:216.5px;top:602.00px;width:26.6px;">8.50</div>
<div class="t l n" style="left:237.4px;top:602.00px;width:26.7px;">297.99</div>
<div class="t l n" style="left:258.4px;top:602.00px;width:26.8px;">8.78</div>
<div class="t l n" style="left:279.5px;top:602.00px;width:26.6px;"><span class="m">-</span>9.60</div>
<div class="t l n" style="left:300.4px;top:602.00px;width:26.9px;"><span class="m">-</span>3.22</div>
<div class="t l n" style="left:321.6px;top:602.00px;width:26.3px;">283.42</div>
<div class="t l n" style="left:342.2px;top:602.00px;width:26.5px;">8.50</div>
<div class="t l n" style="left:363.0px;top:602.00px;width:26.5px;">4.97</div>
<div class="t l n" style="left:383.8px;top:602.00px;width:27.2px;">1.75</div>
<div class="code" style="left:20px;top:610.00px;width:28.6px;">424</div>
<div class="t l" style="left:50.1px;top:609.00px;">Other health protection transfers</div>
<div class="t l n" style="left:196.1px;top:609.00px;width:26.1px;">10.83</div>
<div class="t l n" style="left:216.5px;top:609.00px;width:26.6px;">0.32</div>
<div class="t l n" style="left:237.4px;top:609.00px;width:26.7px;">10.88</div>
<div class="t l n" style="left:258.4px;top:609.00px;width:26.8px;">0.32</div>
<div class="t l n" style="left:279.5px;top:609.00px;width:26.6px;"><span class="m">-</span>0.06</div>
<div class="t l n" style="left:300.4px;top:609.00px;width:26.9px;"><span class="m">-</span>0.54</div>
<div class="t l n" style="left:321.6px;top:609.00px;width:26.3px;">10.45</div>
<div class="t l n" style="left:342.2px;top:609.00px;width:26.5px;">0.31</div>
<div class="t l n" style="left:363.0px;top:609.00px;width:26.5px;">0.38</div>
<div class="t l n" style="left:383.8px;top:609.00px;width:27.2px;">3.68</div>
<div class="code" style="left:20px;top:616.00px;width:28.6px;">425</div>
<div class="t l" style="left:50.1px;top:615.00px;">Other health insurance transfers</div>
<div class="t l n" style="left:196.1px;top:615.00px;width:26.1px;">5.64</div>
<div class="t l n" style="left:216.5px;top:615.00px;width:26.6px;">0.17</div>
<div class="t l n" style="left:237.4px;top:615.00px;width:26.7px;">5.23</div>
<div class="t l n" style="left:258.4px;top:615.00px;width:26.8px;">0.15</div>
<div class="t l n" style="left:279.5px;top:615.00px;width:26.6px;">0.41</div>
<div class="t l n" style="left:300.4px;top:615.00px;width:26.9px;">7.78</div>
<div class="t l n" style="left:321.6px;top:615.00px;width:26.3px;">5.47</div>
<div class="t l n" style="left:342.2px;top:615.00px;width:26.5px;">0.16</div>
<div class="t l n" style="left:363.0px;top:615.00px;width:26.5px;">0.17</div>
<div class="t l n" style="left:383.8px;top:615.00px;width:27.2px;">3.01</div>
<div class="code" style="left:10px;top:622.00px;width:14.5px;">43</div>
<div class="t b" style="left:50.1px;top:622.00px;">Transfers to individuals, institutions, NGOs and public sector</div>
<div class="t b n" style="left:196.1px;top:622.00px;width:26.1px;">69.13</div>
<div class="t b n" style="left:216.5px;top:622.00px;width:26.6px;">2.04</div>
<div class="t b n" style="left:237.4px;top:622.00px;width:26.7px;">75.78</div>
<div class="t b n" style="left:258.4px;top:622.00px;width:26.8px;">2.23</div>
<div class="t b n" style="left:279.5px;top:622.00px;width:26.6px;"><span class="m">-</span>6.66</div>
<div class="t b n" style="left:300.4px;top:622.00px;width:26.9px;"><span class="m">-</span>8.80</div>
<div class="t b n" style="left:321.6px;top:622.00px;width:26.3px;">64.41</div>
<div class="t b n" style="left:342.2px;top:622.00px;width:26.5px;">1.93</div>
<div class="t b n" style="left:363.0px;top:622.00px;width:26.5px;">4.71</div>
<div class="t b n" style="left:383.8px;top:622.00px;width:27.2px;">7.33</div>
<div class="code" style="left:20px;top:629.00px;width:28.6px;">431</div>
<div class="t l" style="left:50.1px;top:628.00px;">Transfers to individuals, institutions, NGOs and public sector</div>
<div class="t l n" style="left:196.1px;top:628.00px;width:26.1px;">68.71</div>
<div class="t l n" style="left:216.5px;top:628.00px;width:26.6px;">2.02</div>
<div class="t l n" style="left:237.4px;top:628.00px;width:26.7px;">75.78</div>
<div class="t l n" style="left:258.4px;top:628.00px;width:26.8px;">2.23</div>
<div class="t l n" style="left:279.5px;top:628.00px;width:26.6px;"><span class="m">-</span>7.07</div>
<div class="t l n" style="left:300.4px;top:628.00px;width:26.9px;"><span class="m">-</span>9.33</div>
<div class="t l n" style="left:321.6px;top:628.00px;width:26.3px;">64.37</div>
<div class="t l n" style="left:342.2px;top:628.00px;width:26.5px;">1.93</div>
<div class="t l n" style="left:363.0px;top:628.00px;width:26.5px;">4.34</div>
<div class="t l n" style="left:383.8px;top:628.00px;width:27.2px;">6.74</div>
<div class="code" style="left:20px;top:636.00px;width:28.6px;">432</div>
<div class="t l" style="left:50.1px;top:635.00px;">Other transfers</div>
<div class="t l n" style="left:196.1px;top:635.00px;width:26.1px;">0.41</div>
<div class="t l n" style="left:216.5px;top:635.00px;width:26.6px;">0.01</div>
<div class="t l n" style="left:237.4px;top:635.00px;width:26.7px;">0.00</div>
<div class="t l n" style="left:258.4px;top:635.00px;width:26.8px;">0.00</div>
<div class="t l n" style="left:279.5px;top:635.00px;width:26.6px;">0.41</div>
<div class="t l c" style="left:306.4px;top:635.00px;width:21.2px;">...</div>
<div class="t l n" style="left:321.6px;top:635.00px;width:26.3px;">0.03</div>
<div class="t l n" style="left:342.2px;top:635.00px;width:26.5px;">0.00</div>
<div class="t l n" style="left:363.0px;top:635.00px;width:26.5px;">0.38</div>
<div class="t l n" style="left:383.8px;top:635.00px;width:27.2px;">1,220.06</div>
<div class="code" style="left:20px;top:642.00px;width:28.6px;">44</div>
<div class="t b" style="left:50.1px;top:641.00px;">Capital budget</div>
<div class="t b n" style="left:196.1px;top:641.00px;width:26.1px;">41.81</div>
<div class="t b n" style="left:216.5px;top:641.00px;width:26.6px;">1.23</div>
<div class="t b n" style="left:237.4px;top:641.00px;width:26.7px;">76.37</div>
<div class="t b n" style="left:258.4px;top:641.00px;width:26.8px;">2.25</div>
<div class="t b n" style="left:279.5px;top:641.00px;width:26.6px;"><span class="m">-</span>34.56</div>
<div class="t b n" style="left:300.4px;top:641.00px;width:26.9px;"><span class="m">-</span>45.25</div>
<div class="t b n" style="left:321.6px;top:641.00px;width:26.3px;">32.39</div>
<div class="t b n" style="left:342.2px;top:641.00px;width:26.5px;">0.97</div>
<div class="t b n" style="left:363.0px;top:641.00px;width:26.5px;">9.42</div>
<div class="t b n" style="left:383.8px;top:641.00px;width:27.2px;">29.07</div>
<div class="code" style="left:20px;top:649.00px;width:28.6px;">451</div>
<div class="t b" style="left:50.1px;top:648.00px;">Lending and borrowing</div>
<div class="t b n" style="left:196.1px;top:648.00px;width:26.1px;">1.78</div>
<div class="t b n" style="left:216.5px;top:648.00px;width:26.6px;">0.05</div>
<div class="t b n" style="left:237.4px;top:648.00px;width:26.7px;">1.61</div>
<div class="t b n" style="left:258.4px;top:648.00px;width:26.8px;">0.05</div>
<div class="t b n" style="left:279.5px;top:648.00px;width:26.6px;">0.17</div>
<div class="t b n" style="left:300.4px;top:648.00px;width:26.9px;">10.59</div>
<div class="t b n" style="left:321.6px;top:648.00px;width:26.3px;">1.22</div>
<div class="t b n" style="left:342.2px;top:648.00px;width:26.5px;">0.04</div>
<div class="t b n" style="left:363.0px;top:648.00px;width:26.5px;">0.56</div>
<div class="t b n" style="left:383.8px;top:648.00px;width:27.2px;">46.02</div>
<div class="code" style="left:20px;top:655.00px;width:28.6px;">47</div>
<div class="t b" style="left:50.1px;top:654.00px;">Reserves</div>
<div class="t b n" style="left:196.1px;top:654.00px;width:26.1px;">8.90</div>
<div class="t b n" style="left:216.5px;top:654.00px;width:26.6px;">0.26</div>
<div class="t b n" style="left:237.4px;top:654.00px;width:26.7px;">6.64</div>
<div class="t b n" style="left:258.4px;top:654.00px;width:26.8px;">0.20</div>
<div class="t b n" style="left:279.5px;top:654.00px;width:26.6px;">2.26</div>
<div class="t b n" style="left:300.4px;top:654.00px;width:26.9px;">34.04</div>
<div class="t b n" style="left:321.6px;top:654.00px;width:26.3px;">11.68</div>
<div class="t b n" style="left:342.2px;top:654.00px;width:26.5px;">0.35</div>
<div class="t b n" style="left:363.0px;top:654.00px;width:26.5px;"><span class="m">-</span>2.77</div>
<div class="t b n" style="left:383.8px;top:654.00px;width:27.2px;"><span class="m">-</span>23.80</div>
<div class="code" style="left:20px;top:661.00px;width:28.6px;">462</div>
<div class="t b" style="left:50.1px;top:660.00px;">Guarantees</div>
<div class="t b n" style="left:196.1px;top:660.00px;width:26.1px;">15.24</div>
<div class="t b n" style="left:216.5px;top:660.00px;width:26.6px;">0.45</div>
<div class="t b n" style="left:237.4px;top:660.00px;width:26.7px;">0.00</div>
<div class="t b n" style="left:258.4px;top:660.00px;width:26.8px;">0.00</div>
<div class="t b n" style="left:279.5px;top:660.00px;width:26.6px;">15.24</div>
<div class="t b c" style="left:306.4px;top:660.00px;width:21.2px;">...</div>
<div class="t b n" style="left:321.6px;top:660.00px;width:26.3px;">103.10</div>
<div class="t b n" style="left:342.2px;top:660.00px;width:26.5px;">3.09</div>
<div class="t b n" style="left:363.0px;top:660.00px;width:26.5px;"><span class="m">-</span>87.86</div>
<div class="t b n" style="left:383.8px;top:660.00px;width:27.2px;"><span class="m">-</span>85.22</div>
<div class="code" style="left:20px;top:668.00px;width:28.6px;">990</div>
<div class="t l" style="left:50.1px;top:667.00px;">Net increase of liabilities</div>
<div class="t l n" style="left:196.1px;top:667.00px;width:26.1px;">0.00</div>
<div class="t l n" style="left:216.5px;top:667.00px;width:26.6px;">0.00</div>
<div class="t l n" style="left:237.4px;top:667.00px;width:26.7px;">0.00</div>
<div class="t l n" style="left:258.4px;top:667.00px;width:26.8px;">0.00</div>
<div class="t l n" style="left:279.5px;top:667.00px;width:26.6px;">0.00</div>
<div class="t l n" style="left:321.6px;top:667.00px;width:26.3px;">0.00</div>
<div class="t l n" style="left:342.2px;top:667.00px;width:26.5px;">0.00</div>
<div class="t l n" style="left:363.0px;top:667.00px;width:26.5px;">0.00</div>
<div class="t l n" style="left:383.8px;top:667.00px;width:27.2px;">#DIV/0!</div>
<div class="t b" style="left:50.1px;top:673.00px;">Surplus / deficit</div>
<div class="t b n" style="left:196.1px;top:673.00px;width:26.1px;"><span class="m">-</span>23.31</div>
<div class="t b n" style="left:216.5px;top:673.00px;width:26.6px;"><span class="m">-</span>0.69</div>
<div class="t b n" style="left:237.4px;top:673.00px;width:26.7px;"><span class="m">-</span>87.12</div>
<div class="t b n" style="left:258.4px;top:673.00px;width:26.8px;"><span class="m">-</span>2.57</div>
<div class="t b n" style="left:279.5px;top:673.00px;width:26.6px;">63.81</div>
<div class="t b n" style="left:300.4px;top:673.00px;width:26.9px;"><span class="m">-</span>73.24</div>
<div class="t b n" style="left:321.6px;top:673.00px;width:26.3px;"><span class="m">-</span>129.93</div>
<div class="t b n" style="left:342.2px;top:673.00px;width:26.5px;"><span class="m">-</span>3.89</div>
<div class="t b n" style="left:363.0px;top:673.00px;width:26.5px;">106.62</div>
<div class="t b n" style="left:383.8px;top:673.00px;width:27.2px;"><span class="m">-</span>82.06</div>
<div class="t b" style="left:50.1px;top:680.00px;">Primary deficit</div>
<div class="t b n" style="left:196.1px;top:680.00px;width:26.1px;">40.18</div>
<div class="t b n" style="left:216.5px;top:680.00px;width:26.6px;">1.18</div>
<div class="t b n" style="left:237.4px;top:680.00px;width:26.7px;"><span class="m">-</span>32.14</div>
<div class="t b n" style="left:258.4px;top:680.00px;width:26.8px;"><span class="m">-</span>0.95</div>
<div class="t b n" style="left:279.5px;top:680.00px;width:26.6px;">72.31</div>
<div class="t b n" style="left:300.4px;top:680.00px;width:26.9px;"><span class="m">-</span>225.02</div>
<div class="t b n" style="left:321.6px;top:680.00px;width:26.3px;"><span class="m">-</span>117.08</div>
<div class="t b n" style="left:342.2px;top:680.00px;width:26.5px;"><span class="m">-</span>3.51</div>
<div class="t b n" style="left:363.0px;top:680.00px;width:26.5px;">157.25</div>
<div class="t b n" style="left:383.8px;top:680.00px;width:27.2px;"><span class="m">-</span>134.31</div>
<div class="t b" style="left:50.1px;top:686.00px;">Debt repayment</div>
<div class="t b n" style="left:196.1px;top:686.00px;width:26.1px;">200.58</div>
<div class="t b n" style="left:216.5px;top:686.00px;width:26.6px;">5.91</div>
<div class="t b n" style="left:237.4px;top:686.00px;width:26.7px;">128.57</div>
<div class="t b n" style="left:258.4px;top:686.00px;width:26.8px;">3.79</div>
<div class="t b n" style="left:279.5px;top:686.00px;width:26.6px;">72.01</div>
<div class="t b n" style="left:300.4px;top:686.00px;width:26.9px;">56.01</div>
<div class="t b n" style="left:321.6px;top:686.00px;width:26.3px;">138.73</div>
<div class="t b n" style="left:342.2px;top:686.00px;width:26.5px;">4.16</div>
<div class="t b n" style="left:363.0px;top:686.00px;width:26.5px;">61.85</div>
<div class="t b n" style="left:383.8px;top:686.00px;width:27.2px;">44.58</div>
<div class="code" style="left:20px;top:694.00px;width:28.6px;">4611</div>
<div class="t l" style="left:50.1px;top:693.00px;">Debt repayment to residents</div>
<div class="t l n" style="left:196.1px;top:693.00px;width:26.1px;">84.61</div>
<div class="t l n" style="left:216.5px;top:693.00px;width:26.6px;">2.49</div>
<div class="t l n" style="left:237.4px;top:693.00px;width:26.7px;">22.51</div>
<div class="t l n" style="left:258.4px;top:693.00px;width:26.8px;">0.66</div>
<div class="t l n" style="left:279.5px;top:693.00px;width:26.6px;">62.11</div>
<div class="t l n" style="left:300.4px;top:693.00px;width:26.9px;">275.96</div>
<div class="t l n" style="left:321.6px;top:693.00px;width:26.3px;">46.19</div>
<div class="t l n" style="left:342.2px;top:693.00px;width:26.5px;">1.38</div>
<div class="t l n" style="left:363.0px;top:693.00px;width:26.5px;">38.42</div>
<div class="t l n" style="left:383.8px;top:693.00px;width:27.2px;">83.18</div>
<div class="code" style="left:20px;top:700.00px;width:28.6px;">4612</div>
<div class="t l" style="left:50.1px;top:699.00px;">Debt repayment to non-residents</div>
<div class="t l n" style="left:196.1px;top:699.00px;width:26.1px;">77.05</div>
<div class="t l n" style="left:216.5px;top:699.00px;width:26.6px;">2.27</div>
<div class="t l n" style="left:237.4px;top:699.00px;width:26.7px;">81.06</div>
<div class="t l n" style="left:258.4px;top:699.00px;width:26.8px;">2.39</div>
<div class="t l n" style="left:279.5px;top:699.00px;width:26.6px;"><span class="m">-</span>4.01</div>
<div class="t l n" style="left:300.4px;top:699.00px;width:26.9px;"><span class="m">-</span>4.95</div>
<div class="t l n" style="left:321.6px;top:699.00px;width:26.3px;">45.01</div>
<div class="t l n" style="left:342.2px;top:699.00px;width:26.5px;">1.35</div>
<div class="t l n" style="left:363.0px;top:699.00px;width:26.5px;">32.04</div>
<div class="t l n" style="left:383.8px;top:699.00px;width:27.2px;">71.18</div>
<div class="code" style="left:20px;top:707.00px;width:28.6px;">4630</div>
<div class="t l" style="left:50.1px;top:706.00px;">Repayment of liabilities</div>
<div class="t l n" style="left:196.1px;top:706.00px;width:26.1px;">38.92</div>
<div class="t l n" style="left:216.5px;top:706.00px;width:26.6px;">1.15</div>
<div class="t l n" style="left:237.4px;top:706.00px;width:26.7px;">25.00</div>
<div class="t l n" style="left:258.4px;top:706.00px;width:26.8px;">0.74</div>
<div class="t l n" style="left:279.5px;top:706.00px;width:26.6px;">13.92</div>
<div class="t l n" style="left:300.4px;top:706.00px;width:26.9px;">55.60</div>
<div class="t l n" style="left:321.6px;top:706.00px;width:26.3px;">47.53</div>
<div class="t l n" style="left:342.2px;top:706.00px;width:26.5px;">1.42</div>
<div class="t l n" style="left:363.0px;top:706.00px;width:26.5px;"><span class="m">-</span>8.61</div>
<div class="t l n" style="left:383.8px;top:706.00px;width:27.2px;"><span class="m">-</span>18.11</div>
<div class="t b" style="left:50.1px;top:712.00px;">Financing needs</div>
<div class="t b n" style="left:196.1px;top:712.00px;width:26.1px;"><span class="m">-</span>223.90</div>
<div class="t b n" style="left:216.5px;top:712.00px;width:26.6px;"><span class="m">-</span>6.60</div>
<div class="t b n" style="left:237.4px;top:712.00px;width:26.7px;"><span class="m">-</span>215.69</div>
<div class="t b n" style="left:258.4px;top:712.00px;width:26.8px;"><span class="m">-</span>6.36</div>
<div class="t b n" style="left:279.5px;top:712.00px;width:26.6px;"><span class="m">-</span>8.20</div>
<div class="t b n" style="left:300.4px;top:712.00px;width:26.9px;">3.80</div>
<div class="t b n" style="left:321.6px;top:712.00px;width:26.3px;"><span class="m">-</span>268.67</div>
<div class="t b n" style="left:342.2px;top:712.00px;width:26.5px;"><span class="m">-</span>8.05</div>
<div class="t b n" style="left:363.0px;top:712.00px;width:26.5px;">44.77</div>
<div class="t b n" style="left:383.8px;top:712.00px;width:27.2px;"><span class="m">-</span>16.66</div>
<div class="t b" style="left:50.1px;top:719.00px;">Financing</div>
<div class="t b n" style="left:196.1px;top:719.00px;width:26.1px;">223.90</div>
<div class="t b n" style="left:216.5px;top:719.00px;width:26.6px;">6.60</div>
<div class="t b n" style="left:237.4px;top:719.00px;width:26.7px;">215.69</div>
<div class="t b n" style="left:258.4px;top:719.00px;width:26.8px;">6.36</div>
<div class="t b n" style="left:279.5px;top:719.00px;width:26.6px;">8.20</div>
<div class="t b n" style="left:300.4px;top:719.00px;width:26.9px;">3.80</div>
<div class="t b n" style="left:321.6px;top:719.00px;width:26.3px;">268.67</div>
<div class="t b n" style="left:342.2px;top:719.00px;width:26.5px;">8.05</div>
<div class="t b n" style="left:363.0px;top:719.00px;width:26.5px;"><span class="m">-</span>44.77</div>
<div class="t b n" style="left:383.8px;top:719.00px;width:27.2px;"><span class="m">-</span>16.66</div>
<div class="code" style="left:20px;top:726.00px;width:28.6px;">7511</div>
<div class="t l" style="left:50.1px;top:725.00px;">Domestic borrowing</div>
<div class="t l n" style="left:196.1px;top:725.00px;width:26.1px;">98.41</div>
<div class="t l n" style="left:216.5px;top:725.00px;width:26.6px;">2.90</div>
<div class="t l n" style="left:237.4px;top:725.00px;width:26.7px;">0.00</div>
<div class="t l n" style="left:258.4px;top:725.00px;width:26.8px;">0.00</div>
<div class="t l n" style="left:279.5px;top:725.00px;width:26.6px;">98.41</div>
<div class="t l c" style="left:306.4px;top:725.00px;width:21.2px;">...</div>
<div class="t l n" style="left:321.6px;top:725.00px;width:26.3px;">125.35</div>
<div class="t l n" style="left:342.2px;top:725.00px;width:26.5px;">3.76</div>
<div class="t l n" style="left:363.0px;top:725.00px;width:26.5px;"><span class="m">-</span>26.94</div>
<div class="t l n" style="left:383.8px;top:725.00px;width:27.2px;"><span class="m">-</span>21.49</div>
<div class="code" style="left:20px;top:733.00px;width:28.6px;">7512</div>
<div class="t l" style="left:50.1px;top:732.00px;">Foreign borrowing</div>
<div class="t l n" style="left:196.1px;top:732.00px;width:26.1px;">192.85</div>
<div class="t l n" style="left:216.5px;top:732.00px;width:26.6px;">5.68</div>
<div class="t l n" style="left:237.4px;top:732.00px;width:26.7px;">170.98</div>
<div class="t l n" style="left:258.4px;top:732.00px;width:26.8px;">5.04</div>
<div class="t l n" style="left:279.5px;top:732.00px;width:26.6px;">21.87</div>
<div class="t l n" style="left:300.4px;top:732.00px;width:26.9px;">12.79</div>
<div class="t l n" style="left:321.6px;top:732.00px;width:26.3px;">103.64</div>
<div class="t l n" style="left:342.2px;top:732.00px;width:26.5px;">3.11</div>
<div class="t l n" style="left:363.0px;top:732.00px;width:26.5px;">89.21</div>
<div class="t l n" style="left:383.8px;top:732.00px;width:27.2px;">86.08</div>
<div class="code" style="left:20px;top:739.00px;width:28.6px;">72</div>
<div class="t l" style="left:50.1px;top:738.00px;">Privatization</div>
<div class="t l n" style="left:196.1px;top:738.00px;width:26.1px;">3.15</div>
<div class="t l n" style="left:216.5px;top:738.00px;width:26.6px;">0.09</div>
<div class="t l n" style="left:237.4px;top:738.00px;width:26.7px;">3.75</div>
<div class="t l n" style="left:258.4px;top:738.00px;width:26.8px;">0.11</div>
<div class="t l n" style="left:279.5px;top:738.00px;width:26.6px;"><span class="m">-</span>0.60</div>
<div class="t l n" style="left:300.4px;top:738.00px;width:26.9px;"><span class="m">-</span>15.89</div>
<div class="t l n" style="left:321.6px;top:738.00px;width:26.3px;">1.62</div>
<div class="t l n" style="left:342.2px;top:738.00px;width:26.5px;">0.05</div>
<div class="t l n" style="left:363.0px;top:738.00px;width:26.5px;">1.54</div>
<div class="t l n" style="left:383.8px;top:738.00px;width:27.2px;">94.92</div>
<div class="t b" style="left:50.1px;top:744.00px;">Increase / decrease of deposits</div>
<div class="t b n" style="left:196.1px;top:744.00px;width:26.1px;"><span class="m">-</span>70.52</div>
<div class="t b n" style="left:216.5px;top:744.00px;width:26.6px;"><span class="m">-</span>2.08</div>
<div class="t b n" style="left:237.4px;top:744.00px;width:26.7px;">40.96</div>
<div class="t b n" style="left:258.4px;top:744.00px;width:26.8px;">1.21</div>
<div class="t b n" style="left:279.5px;top:744.00px;width:26.6px;"><span class="m">-</span>111.48</div>
<div class="t b n" style="left:300.4px;top:744.00px;width:26.9px;"><span class="m">-</span>272.16</div>
<div class="t b n" style="left:321.6px;top:744.00px;width:26.3px;">38.06</div>
<div class="t b n" style="left:342.2px;top:744.00px;width:26.5px;">1.14</div>
<div class="t b n" style="left:363.0px;top:744.00px;width:26.5px;"><span class="m">-</span>108.58</div>
<div class="t b n" style="left:383.8px;top:744.00px;width:27.2px;"><span class="m">-</span>285.27</div>
<div class="t b" style="left:50.1px;top:751.00px;font-style:italic;">Izvor: Ministarstvo finansija Crne Gore</div>
<div class="t c" style="left:448.3px;top:279.7px;width:30.0px;">PDV</div>
<div class="t c" style="left:475.1px;top:279.7px;width:30.0px;">Akcize</div>
<div class="t c" style="left:502.5px;top:279.7px;width:30.0px;">Doprinosi</div>
<div class="t" style="left:435.5px;top:288.0px;">2014 <span class="m">-</span> ostva</div>
<div class="t" style="left:435.5px;top:294.6px;">2014 <span class="m">-</span> plan</div>
<div class="t n" style="left:429.1px;top:301.7px;width:30.0px;">2013</div>
<div class="t n" style="left:453.0px;top:288.0px;width:30.0px;">351.98</div>
<div class="t n" style="left:477.3px;top:288.0px;width:30.0px;">117.79</div>
<div class="t n" style="left:501.3px;top:288.0px;width:30.0px;">284.77</div>
<div class="t n" style="left:453.0px;top:294.6px;width:30.0px;">345.38</div>
<div class="t n" style="left:477.3px;top:294.6px;width:30.0px;">126.45</div>
<div class="t n" style="left:501.3px;top:294.6px;width:30.0px;">263.87</div>
<div class="t n" style="left:453.0px;top:301.7px;width:30.0px;">317.84</div>
<div class="t n" style="left:477.3px;top:301.7px;width:30.0px;">120.63</div>
<div class="t n" style="left:501.3px;top:301.7px;width:30.0px;">264.29</div>
</div>
<svg class="a" style="left:0;top:0;" width="679" height="960" viewBox="0 0 679 960" font-family="Liberation Sans, sans-serif">
<text x="561.6" y="329.3" font-size="4.9" fill="#707070" text-anchor="middle">Izvorni prihodi budžeta - I kvartal 2014</text>
<line x1="474.2" x2="668.2" y1="418.70" y2="418.70" stroke="#d4d4d4" stroke-width="0.5"/>
<text x="472.9" y="419.80" font-size="3.8" fill="#7a7a7a" text-anchor="end">0.00</text>
<line x1="474.2" x2="668.2" y1="408.54" y2="408.54" stroke="#d4d4d4" stroke-width="0.5"/>
<text x="472.9" y="409.64" font-size="3.8" fill="#7a7a7a" text-anchor="end">50.00</text>
<line x1="474.2" x2="668.2" y1="398.38" y2="398.38" stroke="#d4d4d4" stroke-width="0.5"/>
<text x="472.9" y="399.48" font-size="3.8" fill="#7a7a7a" text-anchor="end">100.00</text>
<line x1="474.2" x2="668.2" y1="388.21" y2="388.21" stroke="#d4d4d4" stroke-width="0.5"/>
<text x="472.9" y="389.31" font-size="3.8" fill="#7a7a7a" text-anchor="end">150.00</text>
<line x1="474.2" x2="668.2" y1="378.05" y2="378.05" stroke="#d4d4d4" stroke-width="0.5"/>
<text x="472.9" y="379.15" font-size="3.8" fill="#7a7a7a" text-anchor="end">200.00</text>
<line x1="474.2" x2="668.2" y1="367.89" y2="367.89" stroke="#d4d4d4" stroke-width="0.5"/>
<text x="472.9" y="368.99" font-size="3.8" fill="#7a7a7a" text-anchor="end">250.00</text>
<line x1="474.2" x2="668.2" y1="357.72" y2="357.72" stroke="#d4d4d4" stroke-width="0.5"/>
<text x="472.9" y="358.82" font-size="3.8" fill="#7a7a7a" text-anchor="end">300.00</text>
<line x1="474.2" x2="668.2" y1="347.56" y2="347.56" stroke="#d4d4d4" stroke-width="0.5"/>
<text x="472.9" y="348.66" font-size="3.8" fill="#7a7a7a" text-anchor="end">350.00</text>
<line x1="474.2" x2="668.2" y1="337.40" y2="337.40" stroke="#d4d4d4" stroke-width="0.5"/>
<text x="472.9" y="338.50" font-size="3.8" fill="#7a7a7a" text-anchor="end">400.00</text>
<rect x="486.20" y="347.16" width="11.70" height="71.54" fill="#1f3b66"/>
<text x="492.05" y="345.56" font-size="3.8" fill="#6a6a6a" text-anchor="middle">351.98</text>
<rect x="501.15" y="348.95" width="10.80" height="69.75" fill="#ddd9c4" stroke="#7f1010" stroke-width="0.9"/>
<text x="506.55" y="346.90" font-size="3.8" fill="#6a6a6a" text-anchor="middle">345.38</text>
<rect x="515.30" y="354.10" width="11.70" height="64.60" fill="#8b0a0a"/>
<text x="521.15" y="352.50" font-size="3.8" fill="#6a6a6a" text-anchor="middle">317.84</text>
<text x="506.55" y="424.2" font-size="3.8" fill="#7a7a7a" text-anchor="middle">PDV</text>
<rect x="551.20" y="394.76" width="11.70" height="23.94" fill="#1f3b66"/>
<text x="557.05" y="393.16" font-size="3.8" fill="#6a6a6a" text-anchor="middle">117.79</text>
<rect x="565.55" y="393.45" width="10.80" height="25.25" fill="#ddd9c4" stroke="#7f1010" stroke-width="0.9"/>
<text x="570.95" y="391.40" font-size="3.8" fill="#6a6a6a" text-anchor="middle">126.45</text>
<rect x="579.20" y="394.18" width="11.70" height="24.52" fill="#8b0a0a"/>
<text x="585.05" y="392.58" font-size="3.8" fill="#6a6a6a" text-anchor="middle">120.63</text>
<text x="570.95" y="424.2" font-size="3.8" fill="#7a7a7a" text-anchor="middle">Akcize</text>
<rect x="615.30" y="360.82" width="11.70" height="57.88" fill="#1f3b66"/>
<text x="621.15" y="359.22" font-size="3.8" fill="#6a6a6a" text-anchor="middle">284.77</text>
<rect x="629.65" y="365.52" width="10.80" height="53.18" fill="#ddd9c4" stroke="#7f1010" stroke-width="0.9"/>
<text x="635.05" y="363.47" font-size="3.8" fill="#6a6a6a" text-anchor="middle">263.87</text>
<rect x="643.40" y="364.98" width="11.70" height="53.72" fill="#8b0a0a"/>
<text x="649.25" y="363.38" font-size="3.8" fill="#6a6a6a" text-anchor="middle">264.29</text>
<text x="635.05" y="424.2" font-size="3.8" fill="#7a7a7a" text-anchor="middle">Doprinosi</text>
<rect x="559.7" y="343.9" width="2" height="2" fill="#1f3b66"/>
<text x="563.6" y="346" font-size="3.8" fill="#7a7a7a">2014 <tspan dy="-1">-</tspan><tspan dy="1"> ostvarenje</tspan></text>
<rect x="605.5" y="343.9" width="2" height="2" fill="#ddd9c4" stroke="#8c1515" stroke-width="0.5"/>
<text x="609.2" y="346" font-size="3.8" fill="#7a7a7a">2014 <tspan dy="-1">-</tspan><tspan dy="1"> plan</tspan></text>
<rect x="640.8" y="343.9" width="2" height="2" fill="#8b0a0a"/>
<text x="644.8" y="346" font-size="3.8" fill="#7a7a7a">2013</text>
</svg>
</body></html>
